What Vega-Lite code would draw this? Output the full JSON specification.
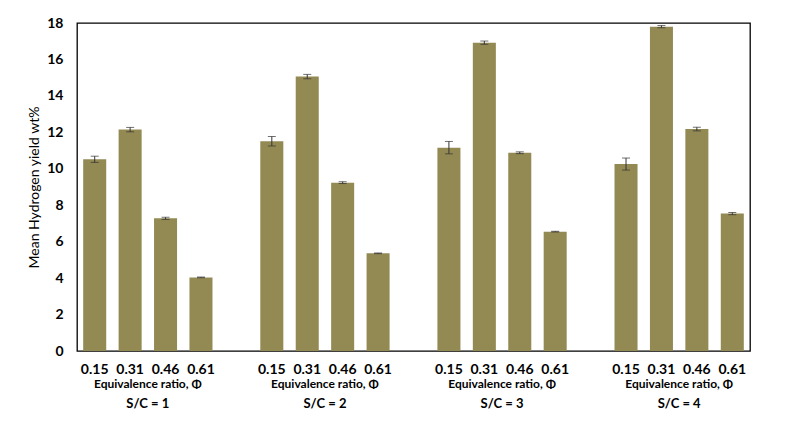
{
  "$schema": "https://vega.github.io/schema/vega-lite/v6.json",
  "autosize": {"type": "none"},
  "width": 673,
  "height": 328,
  "padding": {"left": 77, "top": 23, "right": 40, "bottom": 79},
  "background": "white",
  "datasets": {
    "bars": [
      {"slot": "1-0.15", "sc": "1", "phi": "0.15", "yield": 10.52, "lo": 10.35, "hi": 10.69},
      {"slot": "1-0.31", "sc": "1", "phi": "0.31", "yield": 12.15, "lo": 12.03, "hi": 12.27},
      {"slot": "1-0.46", "sc": "1", "phi": "0.46", "yield": 7.28, "lo": 7.22, "hi": 7.34},
      {"slot": "1-0.61", "sc": "1", "phi": "0.61", "yield": 4.04, "lo": 4.02, "hi": 4.06},
      {"slot": "2-0.15", "sc": "2", "phi": "0.15", "yield": 11.51, "lo": 11.25, "hi": 11.77},
      {"slot": "2-0.31", "sc": "2", "phi": "0.31", "yield": 15.06, "lo": 14.94, "hi": 15.18},
      {"slot": "2-0.46", "sc": "2", "phi": "0.46", "yield": 9.24, "lo": 9.19, "hi": 9.29},
      {"slot": "2-0.61", "sc": "2", "phi": "0.61", "yield": 5.36, "lo": 5.34, "hi": 5.38},
      {"slot": "3-0.15", "sc": "3", "phi": "0.15", "yield": 11.16, "lo": 10.82, "hi": 11.5},
      {"slot": "3-0.31", "sc": "3", "phi": "0.31", "yield": 16.92, "lo": 16.83, "hi": 17.01},
      {"slot": "3-0.46", "sc": "3", "phi": "0.46", "yield": 10.88, "lo": 10.83, "hi": 10.93},
      {"slot": "3-0.61", "sc": "3", "phi": "0.61", "yield": 6.55, "lo": 6.53, "hi": 6.57},
      {"slot": "4-0.15", "sc": "4", "phi": "0.15", "yield": 10.26, "lo": 9.93, "hi": 10.59},
      {"slot": "4-0.31", "sc": "4", "phi": "0.31", "yield": 17.8, "lo": 17.74, "hi": 17.86},
      {"slot": "4-0.46", "sc": "4", "phi": "0.46", "yield": 12.18, "lo": 12.08, "hi": 12.28},
      {"slot": "4-0.61", "sc": "4", "phi": "0.61", "yield": 7.54, "lo": 7.48, "hi": 7.6}
    ],
    "groups": [
      {"slot": "1-0.31", "title": "Equivalence ratio, Φ", "sclabel": "S/C = 1"},
      {"slot": "2-0.31", "title": "Equivalence ratio, Φ", "sclabel": "S/C = 2"},
      {"slot": "3-0.31", "title": "Equivalence ratio, Φ", "sclabel": "S/C = 3"},
      {"slot": "4-0.31", "title": "Equivalence ratio, Φ", "sclabel": "S/C = 4"}
    ]
  },
  "encoding": {
    "x": {
      "field": "slot",
      "type": "nominal",
      "sort": null,
      "scale": {
        "domain": ["1-0.15", "1-0.31", "1-0.46", "1-0.61", "g1", "2-0.15", "2-0.31", "2-0.46", "2-0.61", "g2", "3-0.15", "3-0.31", "3-0.46", "3-0.61", "g3", "4-0.15", "4-0.31", "4-0.46", "4-0.61"],
        "paddingInner": 0,
        "paddingOuter": 0
      },
      "axis": {
        "title": null,
        "labelExpr": "substring(datum.value, 0, 1) == 'g' ? '' : substring(datum.value, 2)",
        "labelAngle": 0,
        "labelFont": "Lato",
        "labelFontWeight": "bold",
        "labelFontSize": 14,
        "labelColor": "#000",
        "labelPadding": 11,
        "domain": false,
        "ticks": false,
        "grid": false
      }
    }
  },
  "layer": [
    {
      "data": {"name": "bars"},
      "mark": {"type": "bar", "width": {"band": 0.65}, "color": "#938953"},
      "encoding": {
        "y": {
          "field": "yield",
          "type": "quantitative",
          "scale": {"domain": [0, 18], "nice": false},
          "axis": {
            "title": "Mean Hydrogen yield wt%",
            "values": [0, 2, 4, 6, 8, 10, 12, 14, 16, 18],
            "labelOverlap": false,
            "tickCount": 10
          }
        }
      }
    },
    {
      "data": {"name": "bars"},
      "mark": {"type": "rule", "color": "#333", "strokeWidth": 1},
      "encoding": {
        "y": {"field": "lo", "type": "quantitative", "axis": {"title": "Mean Hydrogen yield wt%", "values": [0, 2, 4, 6, 8, 10, 12, 14, 16, 18], "labelOverlap": false, "tickCount": 10}},
        "y2": {"field": "hi"}
      }
    },
    {
      "data": {"name": "bars"},
      "mark": {"type": "tick", "color": "#333", "size": 8, "thickness": 1},
      "encoding": {"y": {"field": "lo", "type": "quantitative", "axis": {"title": "Mean Hydrogen yield wt%", "values": [0, 2, 4, 6, 8, 10, 12, 14, 16, 18], "labelOverlap": false, "tickCount": 10}}}
    },
    {
      "data": {"name": "bars"},
      "mark": {"type": "tick", "color": "#333", "size": 8, "thickness": 1},
      "encoding": {"y": {"field": "hi", "type": "quantitative", "axis": {"title": "Mean Hydrogen yield wt%", "values": [0, 2, 4, 6, 8, 10, 12, 14, 16, 18], "labelOverlap": false, "tickCount": 10}}}
    },
    {
      "data": {"name": "groups"},
      "mark": {"type": "text", "font": "Lato", "fontWeight": "bold", "fontSize": 12, "color": "#000", "baseline": "middle", "dy": 33},
      "encoding": {
        "x": {"field": "slot", "type": "nominal", "bandPosition": 1},
        "y": {"datum": 0, "type": "quantitative"},
        "text": {"field": "title"}
      }
    },
    {
      "data": {"name": "groups"},
      "mark": {"type": "text", "font": "Lato", "fontWeight": "bold", "fontSize": 13, "color": "#000", "baseline": "middle", "dy": 53},
      "encoding": {
        "x": {"field": "slot", "type": "nominal", "bandPosition": 1},
        "y": {"datum": 0, "type": "quantitative"},
        "text": {"field": "sclabel"}
      }
    }
  ],
  "config": {
    "view": {"stroke": "#000", "strokeWidth": 1.3},
    "axisY": {
      "labelOverlap": false,
      "labelFont": "Lato",
      "labelFontWeight": "bold",
      "labelFontSize": 14,
      "labelColor": "#000",
      "labelPadding": 14,
      "titleFont": "Lato",
      "titleFontWeight": "normal",
      "titleFontSize": 14,
      "titleColor": "#000",
      "titlePadding": 5,
      "domain": false,
      "ticks": false,
      "grid": false
    }
  }
}
